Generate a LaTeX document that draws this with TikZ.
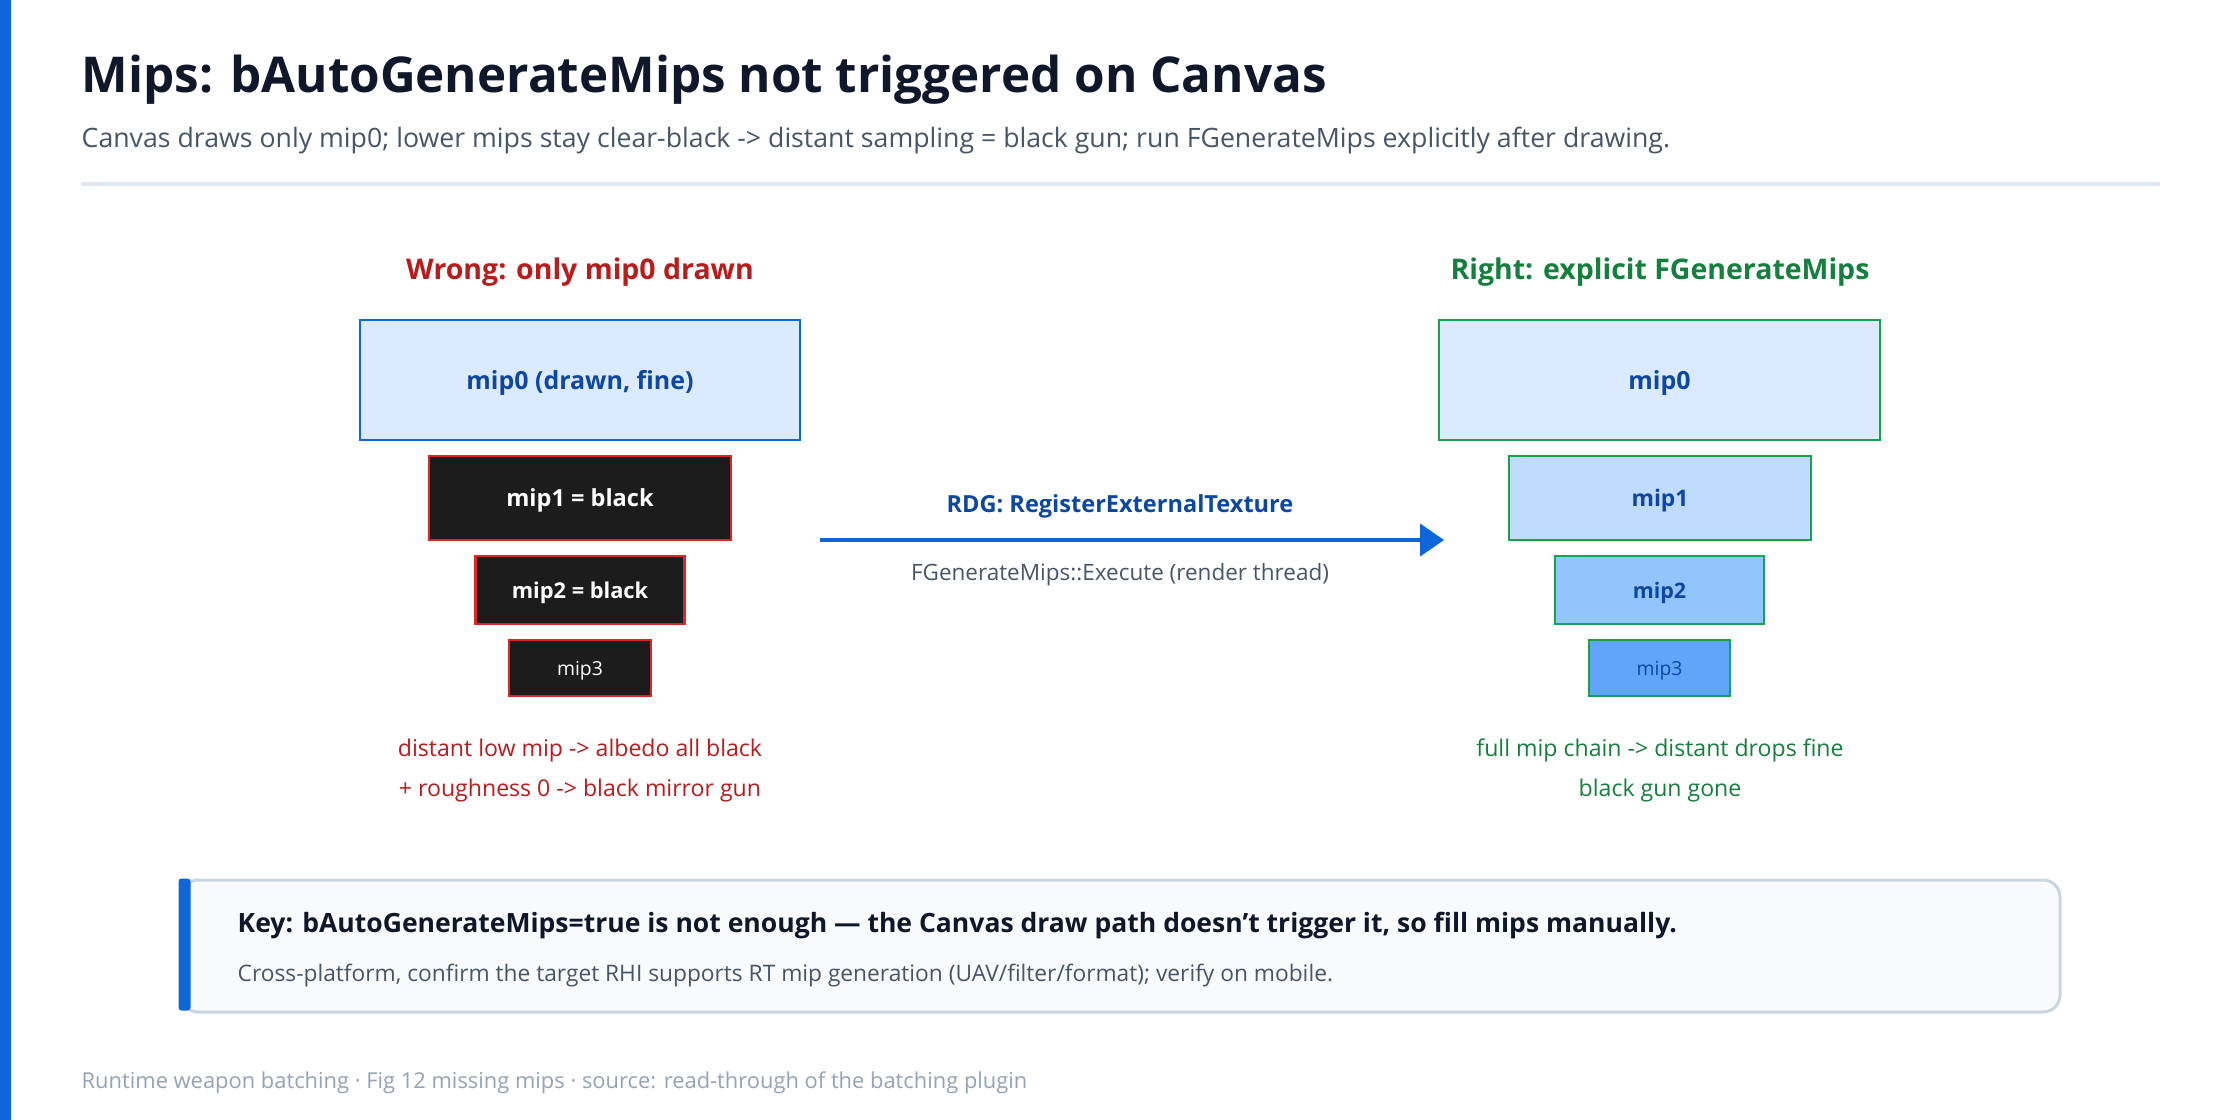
\documentclass[tikz,border=0pt]{standalone}
\usepackage{fontspec}
\setmainfont{Open Sans}
\usetikzlibrary{positioning,arrows.meta}
\tikzset{>={Triangle[length=6.8pt,width=9.1pt]}}
\definecolor{accent}{HTML}{0E66DA}
\definecolor{ink}{HTML}{0F172A}
\definecolor{slate}{HTML}{475569}
\definecolor{faint}{HTML}{94A3B8}
\definecolor{rulecol}{HTML}{E2E8F0}
\definecolor{wrongred}{HTML}{B91C1C}
\definecolor{wrongline}{HTML}{DC2626}
\definecolor{rightgreen}{HTML}{15803D}
\definecolor{rightline}{HTML}{16A34A}
\definecolor{mipink}{HTML}{0D47A1}
\definecolor{mipblack}{HTML}{1C1C1C}
\definecolor{fillA}{HTML}{DBEAFE}
\definecolor{fillB}{HTML}{BFDBFE}
\definecolor{fillC}{HTML}{93C5FD}
\definecolor{fillD}{HTML}{60A5FA}
\definecolor{keybg}{HTML}{F8FAFC}
\definecolor{keyline}{HTML}{CBD5E1}
\newcommand*{\fsz}[1]{\fontsize{#1}{#1}\selectfont}
\tikzset{
  mipbox/.style={draw, line width=0.6pt, inner sep=0pt, text depth=0pt},
  badmip/.style={mipbox, draw=wrongline, fill=mipblack, text=white},
  goodmip/.style={mipbox, draw=rightline, text=mipink},
  txt/.style={inner sep=0pt},
}

\begin{document}
\begin{tikzpicture}[font=\fsz{6pt}]
\useasboundingbox (0,0) rectangle (22.4,-11.2);
\fill[white] (0,0) rectangle (22.4,-11.2);
\fill[accent] (0,0) rectangle (0.11,-11.2);

% Title, subtitle and rule
\node[txt, anchor=base west, text=ink, font=\bfseries\fsz{14.05pt}] (title) at (0.81,-0.92) {Mips: bAutoGenerateMips not triggered on Canvas};
\node[txt, anchor=base west, text=slate, font=\fsz{7.59pt}] (sub) at (0.81,-1.47) {Canvas draws only mip0; lower mips stay clear-black -> distant sampling = black gun; run FGenerateMips explicitly after drawing.};
\draw[rulecol, line width=1.14pt] (0.81,-1.84) -- (21.6,-1.84);

% Wrong: black lower mips
\node[txt, anchor=base, text=wrongred, font=\bfseries\fsz{8.1pt}] (wtitle) at (5.80,-2.79) {Wrong: only mip0 drawn};
\node[mipbox, draw=accent, fill=fillA, text=mipink, font=\bfseries\fsz{7.1pt}, minimum width=4.40cm, minimum height=1.20cm] (w0) at (5.80,-3.80) {mip0 (drawn, fine)};
\node[badmip, font=\bfseries\fsz{6.7pt}, minimum width=3.02cm, minimum height=0.84cm] (w1) at (5.80,-4.98) {mip1 = black};
\node[badmip, font=\bfseries\fsz{6.2pt}, minimum width=2.09cm, minimum height=0.68cm] (w2) at (5.80,-5.90) {mip2 = black};
\node[badmip, font=\fsz{5.5pt}, minimum width=1.42cm, minimum height=0.56cm] (w3) at (5.80,-6.68) {mip3};
\node[txt, text=wrongred, font=\fsz{6.57pt}] (wnote1) at (5.80,-7.50) {distant low mip -> albedo all black};
\node[txt, text=wrongred, font=\fsz{6.57pt}] (wnote2) at (5.80,-7.90) {+ roughness 0 -> black mirror gun};

% Right: full chain
\node[txt, anchor=base, text=rightgreen, font=\bfseries\fsz{8.1pt}] (rtitle) at (16.60,-2.79) {Right: explicit FGenerateMips};
\node[goodmip, fill=fillA, font=\bfseries\fsz{7.1pt}, minimum width=4.41cm, minimum height=1.20cm] (r0) at (16.595,-3.80) {mip0};
\node[goodmip, fill=fillB, font=\bfseries\fsz{6.5pt}, minimum width=3.02cm, minimum height=0.84cm] (r1) at (16.60,-4.98) {mip1};
\node[goodmip, fill=fillC, font=\bfseries\fsz{6.1pt}, minimum width=2.09cm, minimum height=0.68cm] (r2) at (16.595,-5.90) {mip2};
\node[goodmip, fill=fillD, font=\fsz{5.5pt}, minimum width=1.41cm, minimum height=0.56cm] (r3) at (16.595,-6.68) {mip3};
\node[txt, text=rightgreen, font=\fsz{6.57pt}] (rnote1) at (16.60,-7.50) {full mip chain -> distant drops fine};
\node[txt, text=rightgreen, font=\fsz{6.57pt}] (rnote2) at (16.60,-7.90) {black gun gone};

% Pass arrow
\coordinate (a) at (8.20,-5.40);
\coordinate (b) at (14.44,-5.40);
\draw[->, accent, line width=1.14pt] (a) -- (b);
\node[txt, anchor=base, text=mipink, font=\bfseries\fsz{6.7pt}] (pass) at (11.20,-5.12) {RDG: RegisterExternalTexture};
\node[txt, text=slate, font=\fsz{6.4pt}] (exec) at (11.20,-5.75) {FGenerateMips::Execute (render thread)};

% Key box
\node[draw=keyline, fill=keybg, line width=0.85pt, rounded corners=0.17cm, minimum width=18.79cm, minimum height=1.32cm, inner sep=0pt] (key) at (11.205,-9.46) {};
\fill[accent, rounded corners=0.03cm] ([xshift=-0.01cm]key.north west) rectangle ++(0.12,-1.32);
\node[txt, anchor=base west, text=ink, font=\bfseries\fsz{7.55pt}] (keyhead) at (2.37,-9.32) {Key: bAutoGenerateMips=true is not enough — the Canvas draw path doesn't trigger it, so fill mips manually.};
\node[txt, anchor=base west, text=slate, font=\fsz{6.47pt}] (keynote) at (2.37,-9.81) {Cross-platform, confirm the target RHI supports RT mip generation (UAV/filter/format); verify on mobile.};

% Footer
\node[txt, anchor=base west, text=faint, font=\fsz{6.23pt}] (foot) at (0.81,-10.88) {Runtime weapon batching · Fig 12 missing mips · source: read-through of the batching plugin};
\end{tikzpicture}
\end{document}
